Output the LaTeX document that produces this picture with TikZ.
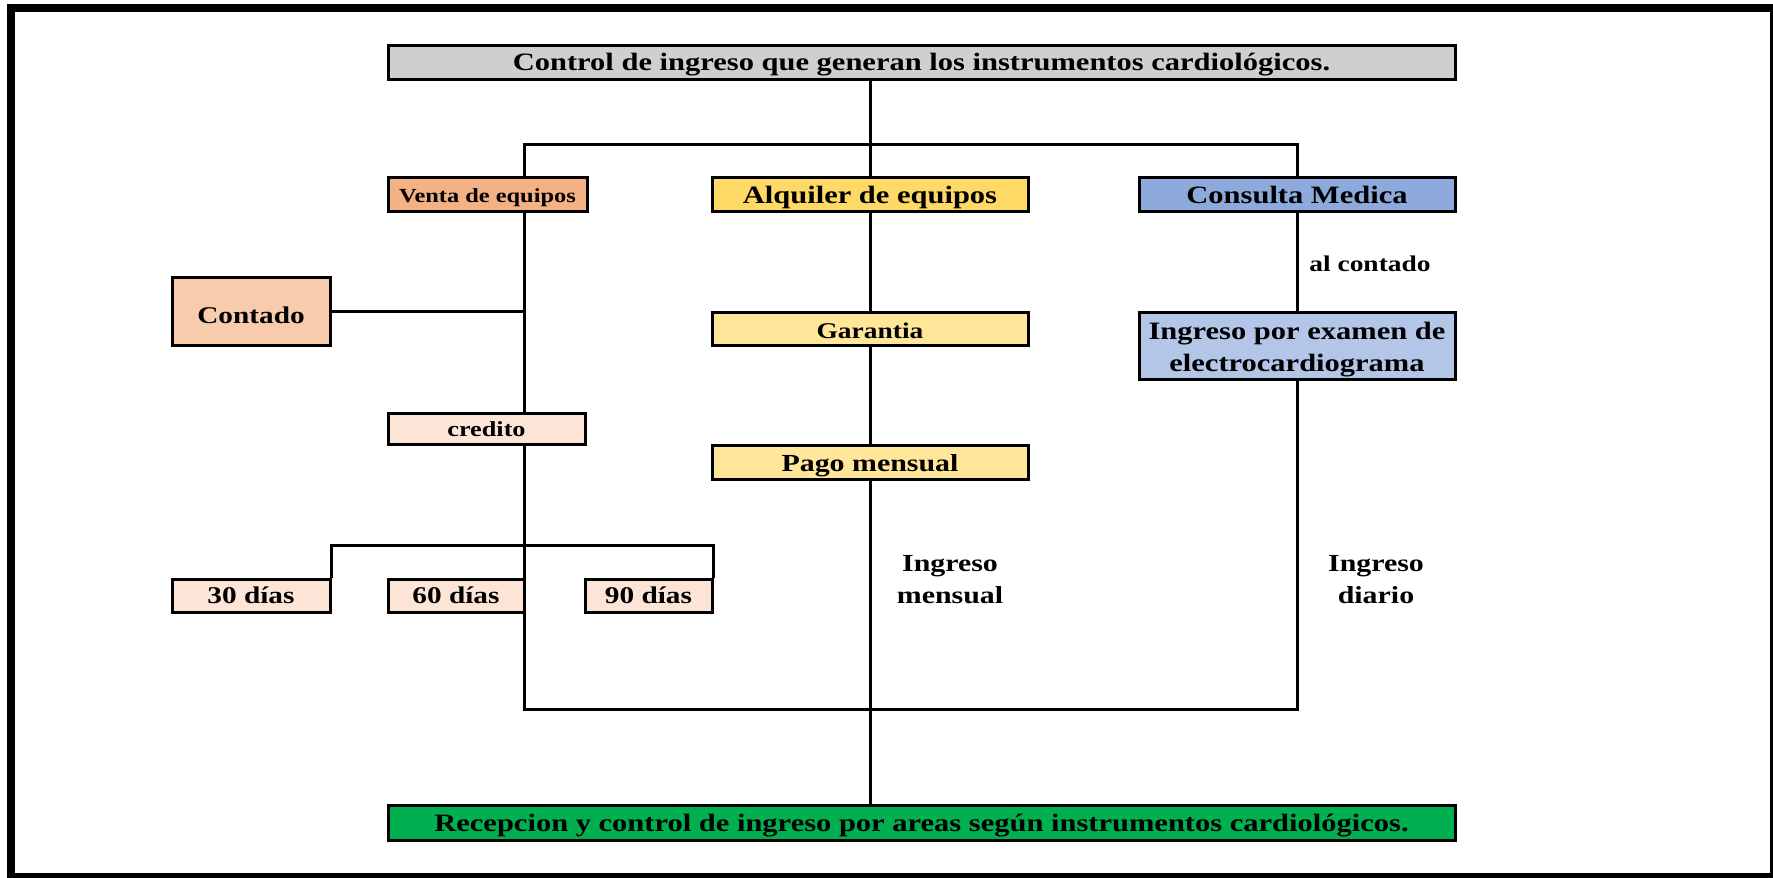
\documentclass[tikz,border=0pt]{standalone}
\usepackage{fontspec}
\setmainfont{Liberation Serif}[FakeStretch=1.22]
\usetikzlibrary{backgrounds}
\definecolor{cgray}{HTML}{D0CECE}
\definecolor{cventa}{HTML}{F4B183}
\definecolor{calq}{HTML}{FFD966}
\definecolor{ccons}{HTML}{8EA9DB}
\definecolor{ccontado}{HTML}{F8CBAD}
\definecolor{clight}{HTML}{FCE4D6}
\definecolor{cgar}{HTML}{FFE699}
\definecolor{cexam}{HTML}{B4C6E7}
\definecolor{cgreen}{HTML}{00B050}
\begin{document}
\begin{tikzpicture}[x=1pt,y=-1pt,
  box/.style={draw=black,line width=3pt,inner sep=0pt,align=center},
  one/.style={text height=#1,text depth=0pt},
  one/.default=18.5pt,
  fs/.style={font=\bfseries\fontsize{#1}{32}\selectfont},
  conn/.style={line width=3pt,line join=miter},
  lbl/.style={inner sep=0pt,align=center}]
\useasboundingbox (0,0) rectangle (1773,878);
\draw[line width=8pt] (11,8) rectangle (1774,877);
% nodes
\node[box,one=16.5pt,fs=25,fill=cgray,minimum width=1067pt,minimum height=34pt] (top) at (921.5,62) {Control de ingreso que generan los instrumentos cardiológicos.};
\node[box,one=17.7pt,fs=20,fill=cventa,minimum width=199pt,minimum height=34pt] (venta) at (487.5,194) {Venta de equipos};
\node[box,one,fs=25,fill=calq,minimum width=316pt,minimum height=34pt] (alquiler) at (870,194) {Alquiler de equipos};
\node[box,one,fs=25,fill=ccons,minimum width=316pt,minimum height=34pt] (consulta) at (1297,194) {Consulta Medica};
\node[box,one=25pt,fs=24,fill=ccontado,minimum width=158pt,minimum height=68pt] (contado) at (251,311) {Contado};
\node[box,one=16.5pt,fs=21.5,fill=clight,minimum width=197pt,minimum height=31pt] (credito) at (486.5,428.5) {credito};
\node[box,one=19.3pt,fs=22.5,fill=cgar,minimum width=316pt,minimum height=33pt] (garantia) at (870,328.5) {Garantia};
\node[box,fs=25,fill=cexam,minimum width=316pt,minimum height=67pt] (examen) at (1297,345.5) {\rule{0pt}{26pt}Ingreso por examen de\\electrocardiograma};
\node[box,one,fs=24.5,fill=cgar,minimum width=316pt,minimum height=34pt] (pago) at (870,462) {Pago mensual};
\node[box,one=15.8pt,fs=24,fill=clight,minimum width=158pt,minimum height=33pt] (d30) at (251,595.5) {30 días};
\node[box,one=15.8pt,fs=24,fill=clight,minimum width=136pt,minimum height=33pt] (d60) at (456,595.5) {60 días};
\node[box,one=15.8pt,fs=24,fill=clight,minimum width=127pt,minimum height=33pt] (d90) at (648.5,595.5) {90 días};
\node[box,one,fs=25,fill=cgreen,minimum width=1067pt,minimum height=35pt] (bottom) at (921.5,822.5) {Recepcion y control de ingreso por areas según instrumentos cardiológicos.};
\node[lbl,fs=22.5] (alc) at (1370,264) {al contado};
\node[lbl,fs=24.5] (imen) at (950,580) {Ingreso\\mensual};
\node[lbl,fs=24.5] (idia) at (1376,580) {Ingreso\\diario};
% connectors
\coordinate (tl) at (524,144);
\coordinate (tr) at (1297,144);
\coordinate (bl) at (524,709);
\coordinate (br) at (1297,709);
\coordinate (sp) at (524,545);
\begin{pgfonlayer}{background}
\draw[conn] (top.south -| alquiler.north) -- (alquiler.north);
\draw[conn] (tl |- venta.north) -- (tl) -- (tr) -- (consulta.north);
\draw[conn] (venta.south -| tl) -- (bl) -- (br) -- (examen.south);
\draw[conn] (contado.east) -- (contado.east -| tl);
\draw[conn] (d30.north east) |- (sp) -| (d90.north east);
\draw[conn] (alquiler) -- (garantia);
\draw[conn] (garantia) -- (pago);
\draw[conn] (pago.south) -- (pago.south |- bottom.north);
\draw[conn] (consulta) -- (examen);
\end{pgfonlayer}
\end{tikzpicture}
\end{document}
